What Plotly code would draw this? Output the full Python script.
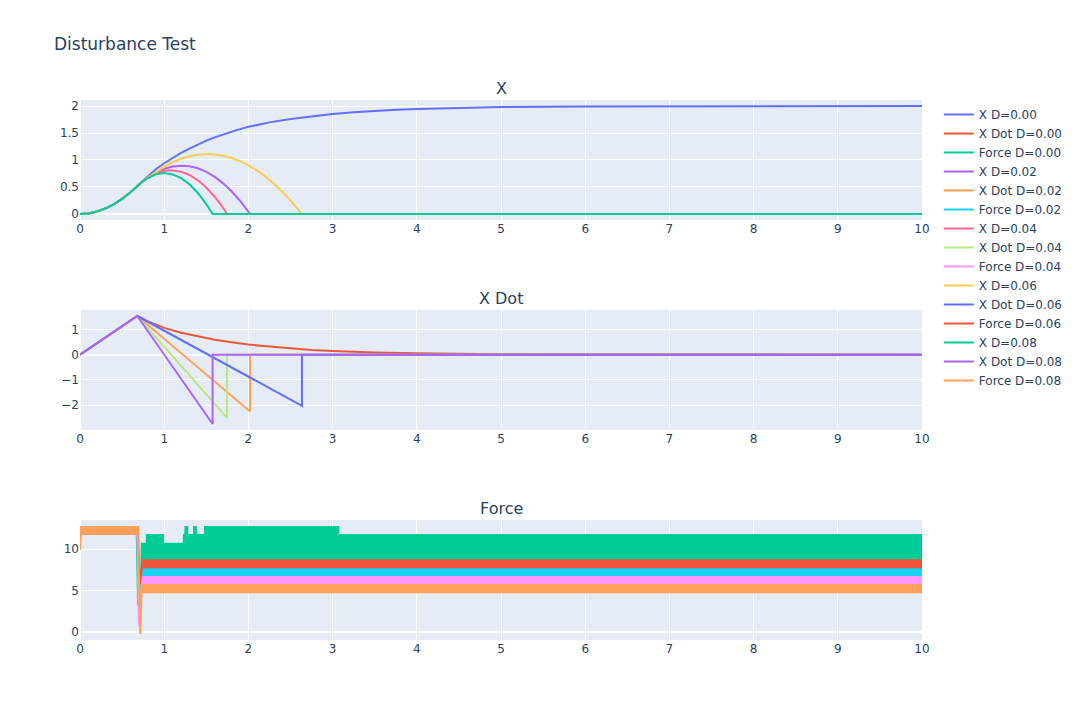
import numpy as np
import plotly.graph_objects as go
from plotly.subplots import make_subplots

d_labels = ["0.00", "0.02", "0.04", "0.06", "0.08"]

# ---------------- X (position) ----------------
# shared start (all runs identical until t ~ 0.68)
x_rise_t = [0.0, 0.1, 0.2, 0.3, 0.4, 0.5, 0.6, 0.68]
x_rise_v = [0.0, 0.011, 0.045, 0.101, 0.179, 0.28, 0.403, 0.518]

x_tail_t_000 = [0.8, 0.9, 1.0, 1.1, 1.2, 1.3, 1.4, 1.5, 1.6, 1.7, 1.75, 1.85, 2.0, 2.25, 2.5, 2.75, 3.0,
                3.25, 3.5, 3.75, 4.0, 4.5, 5.0, 6.0, 7.0, 8.0, 10.0]
x_tail_v_000 = [0.70, 0.83, 0.94, 1.04, 1.13, 1.21, 1.29, 1.36, 1.42, 1.475, 1.50, 1.548, 1.615, 1.697, 1.76,
                1.81, 1.85, 1.883, 1.91, 1.93, 1.945, 1.967, 1.98, 1.99, 1.996, 1.998, 2.0]

x_tail_t_002 = [0.8, 0.9, 1.0, 1.1, 1.213, 1.3, 1.4, 1.5, 1.6, 1.7, 1.8, 1.9, 2.0, 2.02, 10.0]
x_tail_v_002 = [0.666, 0.764, 0.835, 0.878, 0.895, 0.884, 0.846, 0.78, 0.688, 0.567, 0.42, 0.246, 0.044, 0.0, 0.0]

x_tail_t_004 = [0.75, 0.8, 0.9, 1.0, 1.079, 1.2, 1.3, 1.4, 1.5, 1.6, 1.7, 1.745, 10.0]
x_tail_v_004 = [0.614, 0.678, 0.752, 0.799, 0.81, 0.784, 0.722, 0.624, 0.49, 0.32, 0.114, 0.0, 0.0]

x_tail_t_006 = [0.8, 0.9, 1.0, 1.1, 1.2, 1.3, 1.4, 1.515, 1.6, 1.7, 1.8, 1.9, 2.0, 2.1, 2.2, 2.3, 2.4,
                2.45, 2.5, 2.55, 2.6, 2.636, 10.0]
x_tail_v_006 = [0.665, 0.776, 0.876, 0.958, 1.022, 1.069, 1.098, 1.11, 1.104, 1.08, 1.038, 0.979, 0.902,
                0.808, 0.696, 0.566, 0.419, 0.338, 0.253, 0.164, 0.071, 0.0, 0.0]

x_tail_t_008 = [0.75, 0.8, 0.9, 0.998, 1.1, 1.2, 1.3, 1.4, 1.5, 1.575, 10.0]
x_tail_v_008 = [0.612, 0.66, 0.735, 0.757, 0.733, 0.664, 0.55, 0.39, 0.184, 0.0, 0.0]

x_tails_t = [x_tail_t_000, x_tail_t_002, x_tail_t_004, x_tail_t_006, x_tail_t_008]
x_tails_v = [x_tail_v_000, x_tail_v_002, x_tail_v_004, x_tail_v_006, x_tail_v_008]

# ---------------- X Dot (velocity) ----------------
xdot_t_000 = [0.0, 0.68, 0.8, 0.9, 1.0, 1.2, 1.4, 1.6, 1.8, 2.0, 2.25, 2.5, 2.75, 3.0, 3.25, 3.5, 4.0, 4.5,
              5.0, 6.0, 7.0, 8.0, 10.0]
xdot_v_000 = [0.0, 1.53, 1.33, 1.19, 1.06, 0.87, 0.72, 0.59, 0.49, 0.40, 0.32, 0.245, 0.19, 0.15, 0.115,
              0.09, 0.055, 0.034, 0.02, 0.008, 0.003, 0.001, 0.0]
xdot_t_002 = [0.0, 0.68, 2.02, 2.02, 10.0]
xdot_v_002 = [0.0, 1.53, -2.25, 0.0, 0.0]
xdot_t_004 = [0.0, 0.68, 1.745, 1.745, 10.0]
xdot_v_004 = [0.0, 1.53, -2.5, 0.0, 0.0]
xdot_t_006 = [0.0, 0.68, 2.636, 2.636, 10.0]
xdot_v_006 = [0.0, 1.53, -2.02, 0.0, 0.0]
xdot_t_008 = [0.0, 0.68, 1.575, 1.575, 10.0]
xdot_v_008 = [0.0, 1.53, -2.74, 0.0, 0.0]

xdot_t = [xdot_t_000, xdot_t_002, xdot_t_004, xdot_t_006, xdot_t_008]
xdot_v = [xdot_v_000, xdot_v_002, xdot_v_004, xdot_v_006, xdot_v_008]

# ---------------- Force (chattering control signal) ----------------
force_start = 9.9
force_pre_lo = 11.73
force_pre_hi = 12.83
force_drop_start = [0.675, 0.68, 0.685, 0.69, 0.69]
force_drop_min_t = [0.69, 0.695, 0.70, 0.71, 0.715]
force_drop_min = [3.2, 4.0, 0.8, 5.8, -0.3]
force_band_lo = [8.0, 6.6, 5.6, 7.69, 4.66]
force_band_edges = [
    [0.73, 0.79, 0.99, 1.23, 1.48, 3.075, 10.0],
    [0.735, 10.0],
    [0.735, 10.0],
    [0.735, 10.0],
    [0.73, 10.0],
]
force_band_hi = [
    [10.8, 11.86, 10.8, 11.86, 12.83, 11.86],
    [7.75],
    [6.76],
    [8.78],
    [5.79],
]
force_spike_t = [[1.255, 1.275, 1.355, 1.375], [], [], [], []]
force_spike_v = 12.83
force_step = 0.004


def zigzag(t0, t1, lo, hi):
    ts = np.arange(t0, t1, force_step)
    ys = np.where(np.arange(len(ts)) % 2 == 0, lo, hi)
    return list(ts), list(ys)


fig = make_subplots(rows=3, cols=1, subplot_titles=("X", "X Dot", "Force"),
                    vertical_spacing=0.1667)

for i, d in enumerate(d_labels):
    # X
    fig.add_trace(go.Scatter(x=x_rise_t + x_tails_t[i], y=x_rise_v + x_tails_v[i],
                             mode="lines", name=f"X D={d}"), row=1, col=1)
    # X Dot
    fig.add_trace(go.Scatter(x=xdot_t[i], y=xdot_v[i], mode="lines",
                             name=f"X Dot D={d}"), row=2, col=1)
    # Force
    ts = [0.0]
    ys = [force_start]
    zt, zy = zigzag(0.002, force_drop_start[i], force_pre_lo, force_pre_hi)
    ts += zt
    ys += zy
    ts.append(force_drop_min_t[i])
    ys.append(force_drop_min[i])
    edges = force_band_edges[i]
    for k, hi in enumerate(force_band_hi[i]):
        zt, zy = zigzag(edges[k], edges[k + 1], force_band_lo[i], hi)
        ts += zt
        ys += zy
    ts.append(edges[-1])
    ys.append(force_band_lo[i])
    ts_arr = np.array(ts)
    ys_arr = np.array(ys, dtype=float)
    for st in force_spike_t[i]:
        j = int(np.argmin(np.abs(ts_arr - st)))
        ys_arr[j] = force_spike_v
    fig.add_trace(go.Scatter(x=ts_arr, y=ys_arr, mode="lines",
                             name=f"Force D={d}", line=dict(simplify=False)),
                  row=3, col=1)

for r in (1, 2, 3):
    fig.update_xaxes(range=[0, 10], dtick=1, row=r, col=1)

fig.update_layout(title=dict(text="Disturbance Test"), width=1080, height=720,
                  font=dict(family="Verdana, DejaVu Sans, sans-serif"))
fig.update_annotations(font=dict(family="Verdana, DejaVu Sans, sans-serif"))

fig.write_html("out.html")
